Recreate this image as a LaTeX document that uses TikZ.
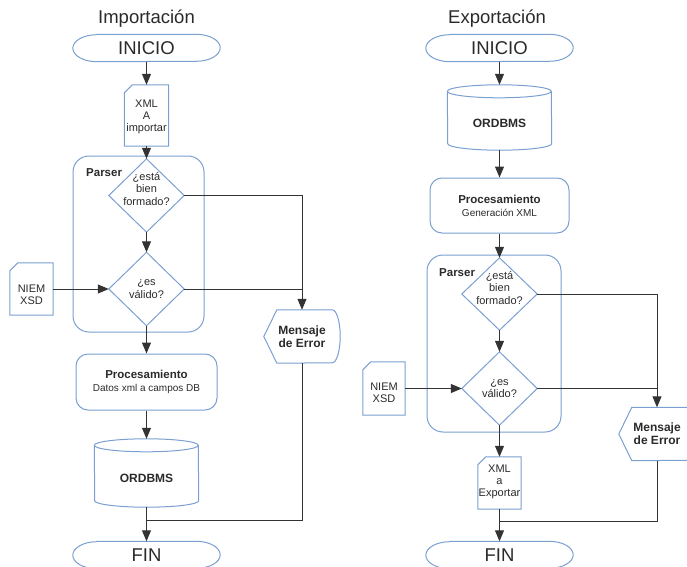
\documentclass[tikz,border=0pt]{standalone}
\usepackage{fontspec}
\setmainfont{Liberation Sans}
\usetikzlibrary{arrows.meta,calc}

\definecolor{shpblue}{HTML}{7A9FD0}
\definecolor{linegray}{HTML}{333333}
\definecolor{txt}{HTML}{2A2A2A}

\newcommand{\fsz}[2]{\fontsize{#1}{#2}\selectfont}

% outlines drawn from the anchors of plain rectangular nodes
\newcommand{\terminalpath}[1]{%
  \draw[outline] ($(#1.north west)+(24,0)$) -- ($(#1.north east)+(-24,0)$)
    arc[start angle=90,end angle=-90,x radius=24pt,y radius=13.5pt]
    -- ($(#1.south west)+(24,0)$)
    arc[start angle=270,end angle=90,x radius=24pt,y radius=13.5pt] -- cycle;}
\newcommand{\decisionpath}[1]{%
  \draw[outline] (#1.north) -- (#1.east) -- (#1.south) -- (#1.west) -- cycle;}
\newcommand{\cardpath}[1]{%
  \draw[outline] ($(#1.north west)+(0,-8)$) -- ($(#1.north west)+(8,0)$)
    -- (#1.north east) -- (#1.south east) -- (#1.south west) -- cycle;}
\newcommand{\dbpath}[2]{%
  \draw[outline] ($(#1.north west)+(0,-6.5)$)
    arc[start angle=180,end angle=0,x radius=#2pt,y radius=6.5pt]
    -- ($(#1.south east)+(0,6.5)$)
    arc[start angle=0,end angle=-180,x radius=#2pt,y radius=6.5pt] -- cycle;
  \draw[outline] ($(#1.north west)+(0,-6.5)$)
    arc[start angle=180,end angle=360,x radius=#2pt,y radius=6.5pt];}
\newcommand{\displaypath}[1]{%
  \draw[outline] (#1.west) -- ($(#1.north west)+(13,0)$) -- ($(#1.north east)+(-8,0)$)
    arc[start angle=90,end angle=-90,x radius=8pt,y radius=26.5pt]
    -- ($(#1.south west)+(13,0)$) -- cycle;}

\tikzset{
  box/.style={inner sep=0pt, align=center, text=txt, draw=none},
  outline/.style={draw=shpblue, line width=1pt},
  conn/.style={draw=linegray, line width=1pt},
  arr/.style={conn, -{Triangle[length=11pt,width=9pt]}},
  terminal/.style={box, minimum width=147pt, minimum height=27pt, font=\fsz{18.5}{20}},
  decision/.style={box, minimum width=75pt, minimum height=73pt, font=\fsz{11}{12.5}},
  card/.style={box},
  cardtext/.style={box, font=\fsz{11}{12}},
  process/.style={box, outline, rounded corners=12pt, minimum width=141pt,
    minimum height=56pt, font=\fsz{10}{13}},
  database/.style={box, minimum width=104pt},
  dbtext/.style={box, font=\bfseries\fsz{12}{14}},
  display/.style={box, minimum width=76pt, minimum height=53pt, font=\bfseries\fsz{12}{13}},
  container/.style={outline, rounded corners=16pt, inner sep=0pt},
  title/.style={text=txt, inner sep=0pt, font=\fsz{18.5}{20}},
  tag/.style={text=txt, font=\bfseries\fsz{11.5}{13}, inner sep=0pt, anchor=west},
}

\begin{document}
\begin{tikzpicture}[x=1pt,y=1pt]
\useasboundingbox (0,0) rectangle (687,566);

% Parser groups
\node[container, minimum width=131pt, minimum height=176pt] (par1) at (138.5,322) {};
\node[tag] (tag1) at (86,393) {Parser};
\node[container, minimum width=134pt, minimum height=177pt] (par2) at (494,222.5) {};
\node[tag] (tag2) at (439,293) {Parser};

% ---- Importación ----
\node[title] (t1) at (146.5,547) {Importación};
\node[terminal] (ini1) at (146.5,518) {INICIO};
\node[card, minimum width=44pt, minimum height=61pt] (xml1) at (146.5,450.5) {};
\node[cardtext] (xml1txt) at (146.5,449) {XML\\A\\importar};
\node[decision] (d1) at (146.5,370.5) {};
\node[decision] (d1txt) at (146.5,377) {¿está\\bien\\formado?};
\node[decision] (d2) at (146.5,277) {¿es\\válido?};
\node[card, minimum width=43pt, minimum height=52pt] (niem1) at (31.5,277) {};
\node[cardtext] (niem1txt) at (31.5,271.5) {NIEM\\XSD};
\node[display] (msg1) at (302,229.5) {Mensaje\\de Error};
\node[process] (proc1) at (146.5,184)
  {{\bfseries\fsz{11.5}{13}Procesamiento}\\Datos xml a campos DB};
\node[database, minimum height=68pt] (db1) at (146.5,93) {};
\node[dbtext] (db1txt) at (146.5,88) {ORDBMS};
\node[terminal] (fin1) at (146.5,11) {FIN};
\coordinate (j1) at (146.5,46);

% ---- Exportación ----
\node[title] (t2) at (497,547) {Exportación};
\node[terminal] (ini2) at (499.5,518) {INICIO};
\node[database, minimum height=65pt] (db2) at (499.5,448.5) {};
\node[dbtext] (db2txt) at (499.5,443) {ORDBMS};
\node[process, minimum width=139pt, minimum height=55pt] (proc2) at (499.5,360.5)
  {{\bfseries\fsz{11.5}{13}Procesamiento}\\Generación XML};
\node[decision, minimum height=72pt] (d3) at (499.5,272) {};
\node[decision] (d3txt) at (499.5,278) {¿está\\bien\\formado?};
\node[decision] (d4) at (499.5,177.5) {¿es\\válido?};
\node[card, minimum width=42pt, minimum height=53pt] (niem2) at (384,177.5) {};
\node[cardtext] (niem2txt) at (384,173) {NIEM\\XSD};
\node[display] (msg2) at (657,132) {Mensaje\\de Error};
\node[card, minimum width=43pt, minimum height=52pt] (xml2) at (499.5,83) {};
\node[cardtext] (xml2txt) at (499.5,84) {XML\\a\\Exportar};
\node[terminal] (fin2) at (499.5,11) {FIN};
\coordinate (j2) at (499.5,45);

% shape outlines
\terminalpath{ini1} \terminalpath{fin1} \terminalpath{ini2} \terminalpath{fin2}
\cardpath{xml1} \cardpath{niem1} \cardpath{niem2} \cardpath{xml2}
\decisionpath{d1} \decisionpath{d2} \decisionpath{d3} \decisionpath{d4}
\dbpath{db1}{52} \dbpath{db2}{52}
\displaypath{msg1} \displaypath{msg2}

% connectors: Importación
\draw[arr] (ini1.south) -- (xml1.north);
\draw[arr] (xml1.south) -- (d1.north);
\draw[arr] (d1.south) -- (d2.north);
\draw[arr] (niem1.east) -- (d2.west);
\draw[arr] (d1.east) -| (msg1.north);
\draw[conn] (d2.east) -- (d2.east -| msg1.north);
\draw[arr] (d2.south) -- (proc1.north);
\draw[arr] (proc1.south) -- (db1.north);
\draw[arr] (db1.south) -- (fin1.north);
\draw[conn] (msg1.south) |- (j1);

% connectors: Exportación
\draw[arr] (ini2.south) -- (db2.north);
\draw[arr] (db2.south) -- (proc2.north);
\draw[arr] (proc2.south) -- (d3.north);
\draw[arr] (d3.south) -- (d4.north);
\draw[arr] (niem2.east) -- (d4.west);
\draw[arr] (d3.east) -| (msg2.north);
\draw[conn] (d4.east) -- (d4.east -| msg2.north);
\draw[arr] (d4.south) -- (xml2.north);
\draw[arr] (xml2.south) -- (fin2.north);
\draw[conn] (msg2.south) |- (j2);
\end{tikzpicture}
\end{document}
